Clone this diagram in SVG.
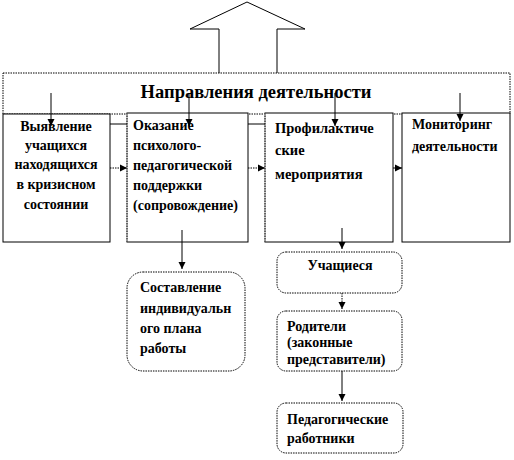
<svg xmlns="http://www.w3.org/2000/svg" width="514" height="460" viewBox="0 0 514 460">
<style>
text{font-family:"Liberation Serif","Times New Roman",serif;font-weight:bold;fill:#000}
.t{font-size:14px}
.box{fill:#fff;stroke:#000;stroke-width:1}
.dot{fill:#fff;stroke:#000;stroke-width:1;stroke-dasharray:1.5 1}
.ln{stroke:#000;stroke-width:1;fill:none}
.dl{stroke:#000;stroke-width:1;fill:none;stroke-dasharray:1.5 1}
</style>
<defs>
<marker id="ah" markerWidth="8" markerHeight="8" refX="7" refY="4" orient="auto" markerUnits="userSpaceOnUse">
<path d="M0,0.5 L7,4 L0,7.5 Z" fill="#000"/>
</marker>
</defs>
<g id="bigArrow">
<path d="M219,73 L219,29 L190,29 L247,2 L305,29 L277,29 L277,73" fill="#fff" stroke="#000" stroke-width="1"/>
</g>
<g id="header">
<rect x="3" y="73" width="507" height="41" class="dot"/>
<text x="256" y="98" text-anchor="middle" font-size="18.5">Направления деятельности</text>
</g>
<g id="box1">
<rect x="3" y="114" width="107" height="128" class="box"/>
<text class="t" text-anchor="middle" x="56"><tspan x="56" y="131">Выявление</tspan><tspan x="56" y="150">учащихся</tspan><tspan x="56" y="169">находящихся</tspan><tspan x="56" y="189">в кризисном</tspan><tspan x="56" y="209">состоянии</tspan></text>
</g>
<g id="box2">
<rect x="127" y="113" width="121" height="129" class="box"/>
<line x1="127" y1="113" x2="127" y2="242" stroke="#fff" stroke-width="1.2"/>
<line x1="127" y1="113" x2="127" y2="242" class="dl"/>
<text class="t"><tspan x="133" y="130">Оказание</tspan><tspan x="133" y="150">психолого-</tspan><tspan x="133" y="170">педагогической</tspan><tspan x="133" y="190">поддержки</tspan><tspan x="133" y="210">(сопровождение)</tspan></text>
</g>
<g id="box3">
<rect x="265" y="113" width="128" height="129" class="box"/>
<line x1="265" y1="113" x2="265" y2="242" stroke="#fff" stroke-width="1.2"/>
<line x1="265" y1="113" x2="265" y2="242" class="dl"/>
<text font-size="14.5"><tspan x="275" y="133">Профилактиче</tspan><tspan x="275" y="155">ские</tspan><tspan x="275" y="179">мероприятия</tspan></text>
</g>
<g id="box4">
<rect x="402" y="113" width="108" height="129" class="box"/>
<text class="t"><tspan x="412" y="129">Мониторинг</tspan><tspan x="412" y="151">деятельности</tspan></text>
</g>
<g id="plan">
<rect x="127" y="272" width="118" height="99" rx="16" class="dot"/>
<text class="t"><tspan x="140" y="292">Составление</tspan><tspan x="140" y="313">индивидуальн</tspan><tspan x="140" y="333">ого плана</tspan><tspan x="140" y="353">работы</tspan></text>
</g>
<g id="students">
<rect x="277" y="252" width="125" height="41" rx="9" class="dot"/>
<text class="t" x="340" y="270" text-anchor="middle">Учащиеся</text>
</g>
<g id="parents">
<rect x="277" y="311" width="125" height="60" rx="9" class="dot"/>
<text class="t"><tspan x="287" y="331">Родители</tspan><tspan x="287" y="347">(законные</tspan><tspan x="287" y="364">представители)</tspan></text>
</g>
<g id="teachers">
<rect x="277" y="403" width="126" height="50" rx="9" class="dot"/>
<text class="t"><tspan x="287" y="424">Педагогические</tspan><tspan x="287" y="443">работники</tspan></text>
</g>
<g id="connectors">
<line x1="110" y1="124" x2="127" y2="124" class="ln"/>
<line x1="248" y1="124" x2="265" y2="124" class="ln"/>
<line x1="51" y1="93" x2="51" y2="126" class="ln" marker-end="url(#ah)"/>
<line x1="189" y1="93" x2="189" y2="126" class="ln" marker-end="url(#ah)"/>
<line x1="335" y1="93" x2="335" y2="126" class="ln" marker-end="url(#ah)"/>
<line x1="460" y1="93" x2="460" y2="121" class="ln" marker-end="url(#ah)"/>
<line x1="110" y1="168" x2="127" y2="168" class="dl" marker-end="url(#ah)"/>
<line x1="248" y1="168" x2="265" y2="168" class="dl" marker-end="url(#ah)"/>
<line x1="393" y1="168" x2="402" y2="168" class="ln" marker-end="url(#ah)"/>
<line x1="182" y1="230" x2="182" y2="269" class="ln" marker-end="url(#ah)"/>
<line x1="342" y1="228" x2="342" y2="249" class="ln" marker-end="url(#ah)"/>
<line x1="342" y1="293" x2="342" y2="309" class="dl" marker-end="url(#ah)"/>
<line x1="342" y1="371" x2="342" y2="401" class="ln" marker-end="url(#ah)"/>
</g>
</svg>
